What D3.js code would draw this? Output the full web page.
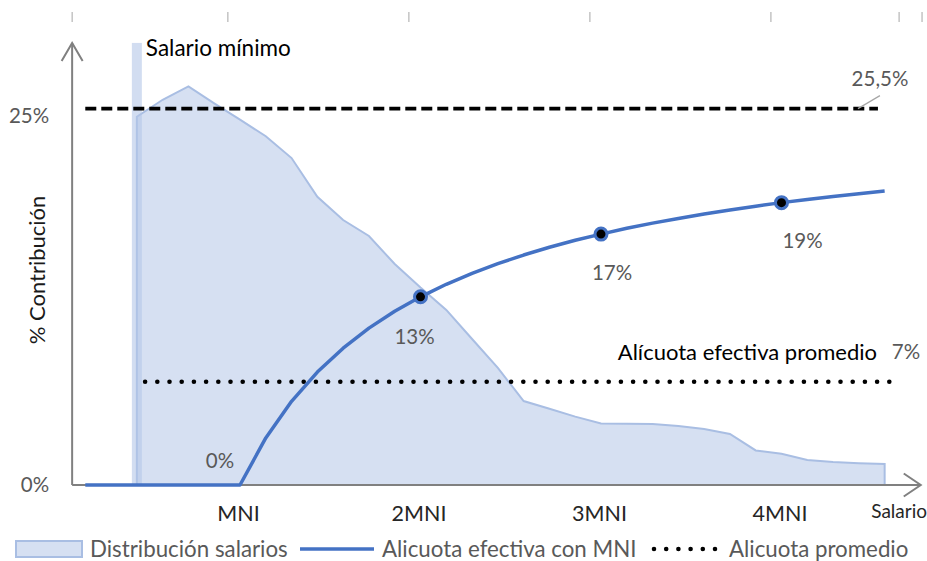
<!DOCTYPE html>
<html>
<head>
<meta charset="utf-8">
<script src="https://cdn.jsdelivr.net/npm/d3@7"></script>
<style>
  body { margin: 0; background: #fff; }
  svg { display: block; }
  text { font-family: Lato, "Open Sans", sans-serif; }
</style>
</head>
<body>
<svg id="chart" width="927" height="561"></svg>
<script>
// Salary steps: each step is one seventh of the MNI (step 7 = MNI, 14 = 2MNI, ...)
const pasos = [1, 2, 3, 4, 5, 6, 7, 8, 9, 10, 11, 12, 13, 14, 15, 16,
               17, 18, 19, 20, 21, 22, 23, 24, 25, 26, 27, 28, 29, 30, 31, 32];

// Salary distribution (% of workers per step); starts at the minimum wage
const distribucion = [null, null, 24.95, 26.1, 27.0, 25.86, 24.75, 23.63, 22.15, 19.53,
                      17.95, 16.87, 14.97, 13.38, 11.86, 9.89, 7.93, 5.69, 5.17, 4.63,
                      4.17, 4.15, 4.13, 4.0, 3.79, 3.46, 2.34, 2.11, 1.69, 1.56, 1.48, 1.42];

// Effective tax rate with a non-taxable minimum (%)
const alicuota = [0, 0, 0, 0, 0, 0, 0, 3.19, 5.67, 7.65, 9.27, 10.63, 11.77, 12.75,
                  13.6, 14.34, 15.0, 15.58, 16.11, 16.58, 17.0, 17.39, 17.74, 18.06,
                  18.36, 18.63, 18.89, 19.13, 19.34, 19.55, 19.74, 19.92];

// Steps whose effective rate is labelled (0%, 13%, 17%, 19%) and those with a marker
const pasosEtiquetados = [7, 14, 21, 28];
const pasosMarcados = [14, 21, 28];

// Reference lines
const tasaMarginal = 25.5;       // flat marginal rate
const alicuotaPromedio = 7;      // average effective rate
const tramoMarginal = [1, 31.74];
const tramoPromedio = [3.32, 32.32];

// Minimum wage step
const salarioMinimo = 3;

// Axis ticks
const ticksY = [0, 25];
const ticksX = [7, 14, 21, 28];
const etiquetasX = ["MNI", "2MNI", "3MNI", "4MNI"];
const ticksSuperiores = [0.49, 6.53, 13.55, 20.57, 27.59, 32.56, 33.45];

const colores = {
  area: "#D6E0F2",
  areaBorde: "#A9BEE3",
  minimo: "#B4C7E7",
  linea: "#4472C4",
  eje: "#808080",
  texto: "#595959"
};

const svg = d3.select("#chart");
const x = d3.scaleLinear().domain([7, 28]).range([240, 781.5]);
const y = d3.scaleLinear().domain([0, 25]).range([485, 116]);
const xMin = 0.49, xMax = 33.4, yMax = 29.95;

const fmtPct = v => d3.format(".0f")(v) + "%";
const fmtComa = v => d3.format(".1f")(v).replace(".", ",") + "%";

// Faint ticks along the top edge
svg.append("g").selectAll("line").data(ticksSuperiores).join("line")
  .attr("x1", d => x(d)).attr("x2", d => x(d))
  .attr("y1", 12).attr("y2", 22)
  .attr("stroke", "#A6A6A6").attr("stroke-width", 1);

// Salary distribution area
const datosArea = pasos.map((p, i) => ({ p, v: distribucion[i] })).filter(d => d.v !== null);
svg.append("path").datum(datosArea)
  .attr("d", d3.area().x(d => x(d.p)).y0(y(0)).y1(d => y(d.v)))
  .attr("fill", colores.area);
const bordeArea = [{ p: datosArea[0].p, v: 0 }, ...datosArea, { p: datosArea[datosArea.length - 1].p, v: 0 }];
svg.append("path").datum(bordeArea)
  .attr("d", d3.line().x(d => x(d.p)).y(d => y(d.v)))
  .attr("fill", "none").attr("stroke", colores.areaBorde).attr("stroke-width", 2);

// Minimum wage band
svg.append("rect")
  .attr("x", x(salarioMinimo) - 5).attr("width", 10)
  .attr("y", y(yMax)).attr("height", y(0) - y(yMax))
  .attr("fill", colores.minimo).attr("opacity", 0.6);
svg.append("text").attr("x", x(salarioMinimo) + 9).attr("y", y(yMax) + 13)
  .attr("font-size", 22.5).attr("fill", "#000").text("Salario mínimo");

// Axes with open arrowheads
const ejes = svg.append("g").attr("stroke", colores.eje).attr("stroke-width", 2).attr("fill", "none");
ejes.append("path").attr("d", `M${x(xMin)},${y(0)}V${y(yMax)}`);
ejes.append("path").attr("d", `M${x(xMin) - 10.5},${y(yMax) + 18}L${x(xMin)},${y(yMax)}L${x(xMin) + 10.5},${y(yMax) + 18}`);
ejes.append("path").attr("d", `M${x(xMin)},${y(0)}H${x(xMax)}`);
ejes.append("path").attr("d", `M${x(xMax) - 17},${y(0) - 11.5}L${x(xMax)},${y(0)}L${x(xMax) - 17},${y(0) + 11.5}`);

// Y tick labels
svg.append("g").attr("transform", `translate(${x(xMin)},0)`)
  .call(d3.axisLeft(y).tickValues(ticksY).tickFormat(fmtPct).tickSize(0).tickPadding(23))
  .call(g => g.select(".domain").remove())
  .selectAll("text").attr("font-size", 20.5).attr("fill", colores.texto).attr("font-family", null);

// X tick labels
svg.append("g").attr("transform", `translate(0,${y(0)})`)
  .call(d3.axisBottom(x).tickValues(ticksX).tickFormat((d, i) => etiquetasX[i]).tickSize(0).tickPadding(21))
  .call(g => g.select(".domain").remove())
  .selectAll("text").attr("font-size", 21.5).attr("fill", "#262626").attr("dx", -2).attr("font-family", null);

svg.append("text").attr("x", 927).attr("y", 518).attr("text-anchor", "end")
  .attr("font-size", 19).attr("fill", "#262626").text("Salario");

svg.append("text")
  .attr("transform", `translate(45,${270}) rotate(-90)`)
  .attr("text-anchor", "middle").attr("font-size", 22).attr("fill", "#1a1a1a")
  .text("% Contribución");

// Reference lines
svg.append("line")
  .attr("x1", x(tramoMarginal[0])).attr("x2", x(tramoMarginal[1]))
  .attr("y1", y(tasaMarginal)).attr("y2", y(tasaMarginal))
  .attr("stroke", "#000").attr("stroke-width", 3.6).attr("stroke-dasharray", "11 5");
svg.append("line")
  .attr("x1", x(tramoPromedio[0])).attr("x2", x(tramoPromedio[1]))
  .attr("y1", y(alicuotaPromedio)).attr("y2", y(alicuotaPromedio))
  .attr("stroke", "#000").attr("stroke-width", 4.6).attr("stroke-linecap", "round")
  .attr("stroke-dasharray", "0 12.2");

// Reference line labels
svg.append("line")
  .attr("x1", x(tramoMarginal[1]) - 20).attr("y1", y(tasaMarginal))
  .attr("x2", x(tramoMarginal[1]) + 2).attr("y2", y(tasaMarginal) - 13)
  .attr("stroke", "#A6A6A6").attr("stroke-width", 1.2);
svg.append("text").attr("x", 880).attr("y", y(tasaMarginal) - 23)
  .attr("text-anchor", "middle").attr("font-size", 20.5).attr("fill", colores.texto)
  .text(fmtComa(tasaMarginal));
svg.append("text").attr("x", 877).attr("y", y(alicuotaPromedio) - 22)
  .attr("text-anchor", "end").attr("font-size", 22).attr("fill", "#000")
  .text("Alícuota efectiva promedio");
svg.append("text").attr("x", 906).attr("y", y(alicuotaPromedio) - 23)
  .attr("text-anchor", "middle").attr("font-size", 20.5).attr("fill", colores.texto)
  .text(fmtPct(alicuotaPromedio));

// Effective tax rate curve
const datosLinea = pasos.map((p, i) => ({ p, v: alicuota[i] }));
svg.append("path").datum(datosLinea)
  .attr("d", d3.line().x(d => x(d.p)).y(d => y(d.v)))
  .attr("fill", "none").attr("stroke", colores.linea).attr("stroke-width", 3.5)
  .attr("stroke-linejoin", "round");

svg.append("g").selectAll("circle")
  .data(datosLinea.filter(d => pasosMarcados.includes(d.p))).join("circle")
  .attr("cx", d => x(d.p)).attr("cy", d => y(d.v)).attr("r", 6)
  .attr("fill", "#000").attr("stroke", colores.linea).attr("stroke-width", 3);

// Data labels, nudged off the curve
const desplazamientos = { 7: [-20, -17], 14: [-6, 47], 21: [11, 46], 28: [21, 45] };
svg.append("g").selectAll("text")
  .data(datosLinea.filter(d => pasosEtiquetados.includes(d.p))).join("text")
  .attr("x", d => x(d.p) + desplazamientos[d.p][0])
  .attr("y", d => y(d.v) + desplazamientos[d.p][1])
  .attr("text-anchor", "middle").attr("font-size", 20.5).attr("fill", colores.texto)
  .text(d => fmtPct(d.v));

// Legend
const ley = svg.append("g").attr("transform", "translate(0,549)");
ley.append("rect").attr("x", 16).attr("y", -8).attr("width", 66).attr("height", 16)
  .attr("fill", colores.area).attr("stroke", colores.areaBorde).attr("stroke-width", 2);
ley.append("text").attr("x", 90).attr("y", 8).attr("font-size", 22.3).attr("fill", colores.texto)
  .text("Distribución salarios");
ley.append("line").attr("x1", 300).attr("x2", 374).attr("stroke", colores.linea).attr("stroke-width", 3.5);
ley.append("text").attr("x", 382).attr("y", 8).attr("font-size", 22.3).attr("fill", colores.texto)
  .text("Alicuota efectiva con MNI");
ley.append("line").attr("x1", 654).attr("x2", 716).attr("stroke", "#000").attr("stroke-width", 4.6)
  .attr("stroke-linecap", "round").attr("stroke-dasharray", "0 12.2");
ley.append("text").attr("x", 729).attr("y", 8).attr("font-size", 22.3).attr("fill", colores.texto)
  .text("Alicuota promedio");
</script>
</body>
</html>
